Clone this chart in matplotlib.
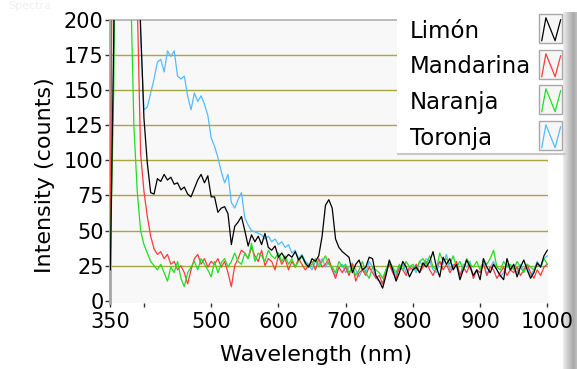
import numpy as np
import matplotlib
matplotlib.use('Agg')
import matplotlib.pyplot as plt
from matplotlib.patches import Rectangle

# ---------------- data ----------------
wavelength = np.arange(350, 1001, 5)

limon = [
    22, 185, 420, 520, 520, 520, 480, 380, 280, 195,
    130, 98, 77, 76, 87, 85, 90, 86, 88, 83,
    84, 79, 81, 76, 74, 80, 86, 90, 84, 89,
    74, 74, 63, 66, 67, 62, 40, 53, 56, 60,
    50, 39, 47, 42, 46, 40, 48, 38, 36, 39,
    31, 34, 30, 33, 31, 35, 29, 32, 27, 24,
    30, 28, 32, 46, 68, 72, 66, 44, 38, 35,
    33, 31, 20, 26, 29, 22, 24, 31, 30, 18,
    14, 9, 18, 29, 22, 14, 20, 28, 24, 17,
    22, 24, 20, 27, 24, 28, 35, 24, 17, 31,
    26, 30, 22, 26, 15, 22, 29, 24, 18, 22,
    15, 30, 24, 20, 26, 22, 18, 15, 30, 22,
    26, 17, 24, 29, 22, 16, 20, 27, 24, 32,
    36]

mandarina = [
    45, 420, 520, 520, 520, 520, 500, 290, 215, 105,
    78, 60, 46, 37, 33, 35, 30, 33, 26, 28,
    22, 25, 20, 12, 22, 30, 33, 26, 30, 24,
    28, 26, 30, 24, 28, 20, 10, 25, 30, 36,
    34, 30, 38, 32, 28, 36, 25, 30, 28, 22,
    32, 26, 30, 22, 28, 24, 30, 26, 22, 25,
    28, 22, 30, 24, 26, 30, 22, 16, 24, 20,
    24, 18, 26, 14, 20, 22, 18, 24, 20, 16,
    18, 12, 22, 26, 20, 16, 24, 22, 18, 24,
    22, 26, 20, 24, 28, 22, 18, 24, 28, 22,
    26, 20, 24, 28, 18, 24, 20, 26, 16, 22,
    20, 26, 18, 24, 22, 16, 20, 24, 18, 22,
    20, 24, 18, 22, 26, 20, 16, 22, 18, 24,
    26]

naranja = [
    30, 150, 420, 520, 520, 500, 230, 125, 78, 50,
    40, 34, 28, 25, 22, 26, 20, 14, 24, 20,
    28, 16, 10, 20, 24, 28, 22, 30, 26, 22,
    17, 28, 20, 27, 30, 24, 28, 34, 28, 26,
    34, 30, 41, 28, 34, 32, 28, 36, 32, 30,
    34, 28, 32, 26, 30, 24, 28, 32, 26, 24,
    26, 30, 24, 28, 32, 26, 24, 20, 28, 24,
    26, 20, 24, 18, 22, 28, 20, 16, 24, 22,
    20, 16, 22, 28, 24, 20, 26, 22, 28, 24,
    26, 22, 28, 30, 26, 32, 24, 22, 34, 28,
    30, 26, 32, 24, 28, 22, 30, 26, 24, 28,
    22, 28, 26, 30, 36, 24, 22, 28, 24, 26,
    22, 28, 24, 20, 26, 24, 22, 26, 24, 30,
    26]

toronja = [
    22, 170, 420, 520, 520, 520, 500, 400, 290, 190,
    136, 138, 148, 158, 170, 172, 163, 178, 174, 178,
    160, 158, 160, 146, 136, 148, 142, 146, 140, 132,
    116, 110, 102, 92, 84, 90, 70, 66, 72, 77,
    59, 54, 50, 49, 48, 47, 44, 46, 42, 44,
    40, 42, 38, 40, 34, 36, 30, 33, 28, 26,
    22, 28, 26, 30, 24, 28, 22, 18, 24, 26,
    20, 24, 27, 22, 17, 22, 20, 28, 24, 16,
    14, 12, 20, 26, 22, 18, 24, 26, 20, 22,
    24, 20, 28, 25, 30, 28, 22, 20, 28, 26,
    33, 22, 26, 24, 18, 26, 24, 28, 16, 22,
    20, 30, 18, 24, 28, 22, 17, 20, 26, 22,
    24, 20, 26, 22, 24, 18, 22, 28, 24, 30,
    32]

series_names = ['Limón', 'Mandarina', 'Naranja', 'Toronja']
series_values = [limon, mandarina, naranja, toronja]
series_colors = ['#000000', '#ff3b3b', '#22dd22', '#55bbff']
series_z = [6, 4, 5, 3]

xticks = [350, 400, 500, 600, 700, 800, 900, 1000]
xtick_labels = ['350', '', '500', '600', '700', '800', '900', '1000']
yticks = [0, 25, 50, 75, 100, 125, 150, 175, 200]
ytick_labels = [str(v) for v in yticks]
grid_levels = [25, 50, 75, 100, 125, 150, 175]

# ---------------- figure ----------------
W, H = 577, 369
fig = plt.figure(figsize=(W / 100, H / 100), dpi=100)
fig.patch.set_facecolor('white')


def fx(px):
    return px / W


def fy(py):
    return 1 - py / H


# background decoration axes (gray right bar)
bg = fig.add_axes([0, 0, 1, 1], zorder=0)
bg.set_axis_off()
grad = np.linspace(0, 1, 64)
cols = np.interp(grad, [0, 0.75, 1.0], [0.93, 0.66, 0.75])
img = np.tile(cols, (2, 1))
bg.imshow(img, cmap='gray', vmin=0, vmax=1, extent=(563, 577, H, 12),
          aspect='auto', interpolation='bilinear')
bg.set_xlim(0, W)
bg.set_ylim(H, 0)

# main axes
ax = fig.add_axes([fx(110), fy(303), fx(548) - fx(110), fy(20) - fy(303)], zorder=1)
ax.set_facecolor('#f8f8f8')
ax.set_xlim(349.5, 1001)
ax.set_ylim(-1.6, 200)

for g in grid_levels:
    ax.axhline(g, color='#aba53e', lw=1.0, zorder=1)

for name, vals, col, z in zip(series_names, series_values, series_colors, series_z):
    ax.plot(wavelength, vals, color=col, lw=0.9, zorder=z, label=name)

ax.set_xticks(xticks)
ax.set_xticklabels(xtick_labels)
ax.set_yticks(yticks)
ax.set_yticklabels(ytick_labels)
ax.tick_params(axis='x', direction='out', length=3, width=1, color='#333333',
               pad=3.5, labelsize=15)
ax.tick_params(axis='y', direction='out', length=3.6, width=1, color='#333333',
               pad=1.0, labelsize=15)
for s in ['right', 'bottom']:
    ax.spines[s].set_visible(False)
ax.spines['left'].set_color('#a8a8a8')
ax.spines['left'].set_linewidth(2)
ax.spines['top'].set_color('#b0b0b0')
ax.spines['top'].set_linewidth(1.2)

# overlay for legend and labels
ov = fig.add_axes([0, 0, 1, 1], zorder=10)
ov.set_axis_off()
ov.patch.set_alpha(0)
ov.set_xlim(0, W)
ov.set_ylim(H, 0)

ov.add_patch(Rectangle((397, 12), 166, 141, facecolor='white', edgecolor='none'))
ov.plot([397, 566], [153.5, 153.5], color='#c8c8c8', lw=1.5, solid_capstyle='butt')

baselines = [38, 73, 109, 145]
icon_tops = [14, 50, 85, 121]
zig_x = np.array([0.12, 0.30, 0.70, 0.94])
zig_y = np.array([0.92, 0.13, 0.92, 0.20])
for name, col, b, t in zip(series_names, series_colors, baselines, icon_tops):
    ov.text(410, b, name, fontsize=16.5, ha='left', va='baseline', color='black')
    ov.add_patch(Rectangle((539, t), 23, 29, facecolor='#f7f7f7',
                           edgecolor='#a8a8a8', lw=1))
    ov.plot(539 + zig_x * 23, t + zig_y * 29, color=col, lw=0.9)

ov.text(316, 355, 'Wavelength (nm)', fontsize=16, ha='center', va='center')
ov.text(45, 175.5, 'Intensity (counts)', fontsize=16, ha='center', va='center',
        rotation=90)
ov.text(8, 1, 'Spectra', fontsize=8, ha='left', va='top', color='#f0f0f0')

fig.savefig('out.png', dpi=100, facecolor='white')
